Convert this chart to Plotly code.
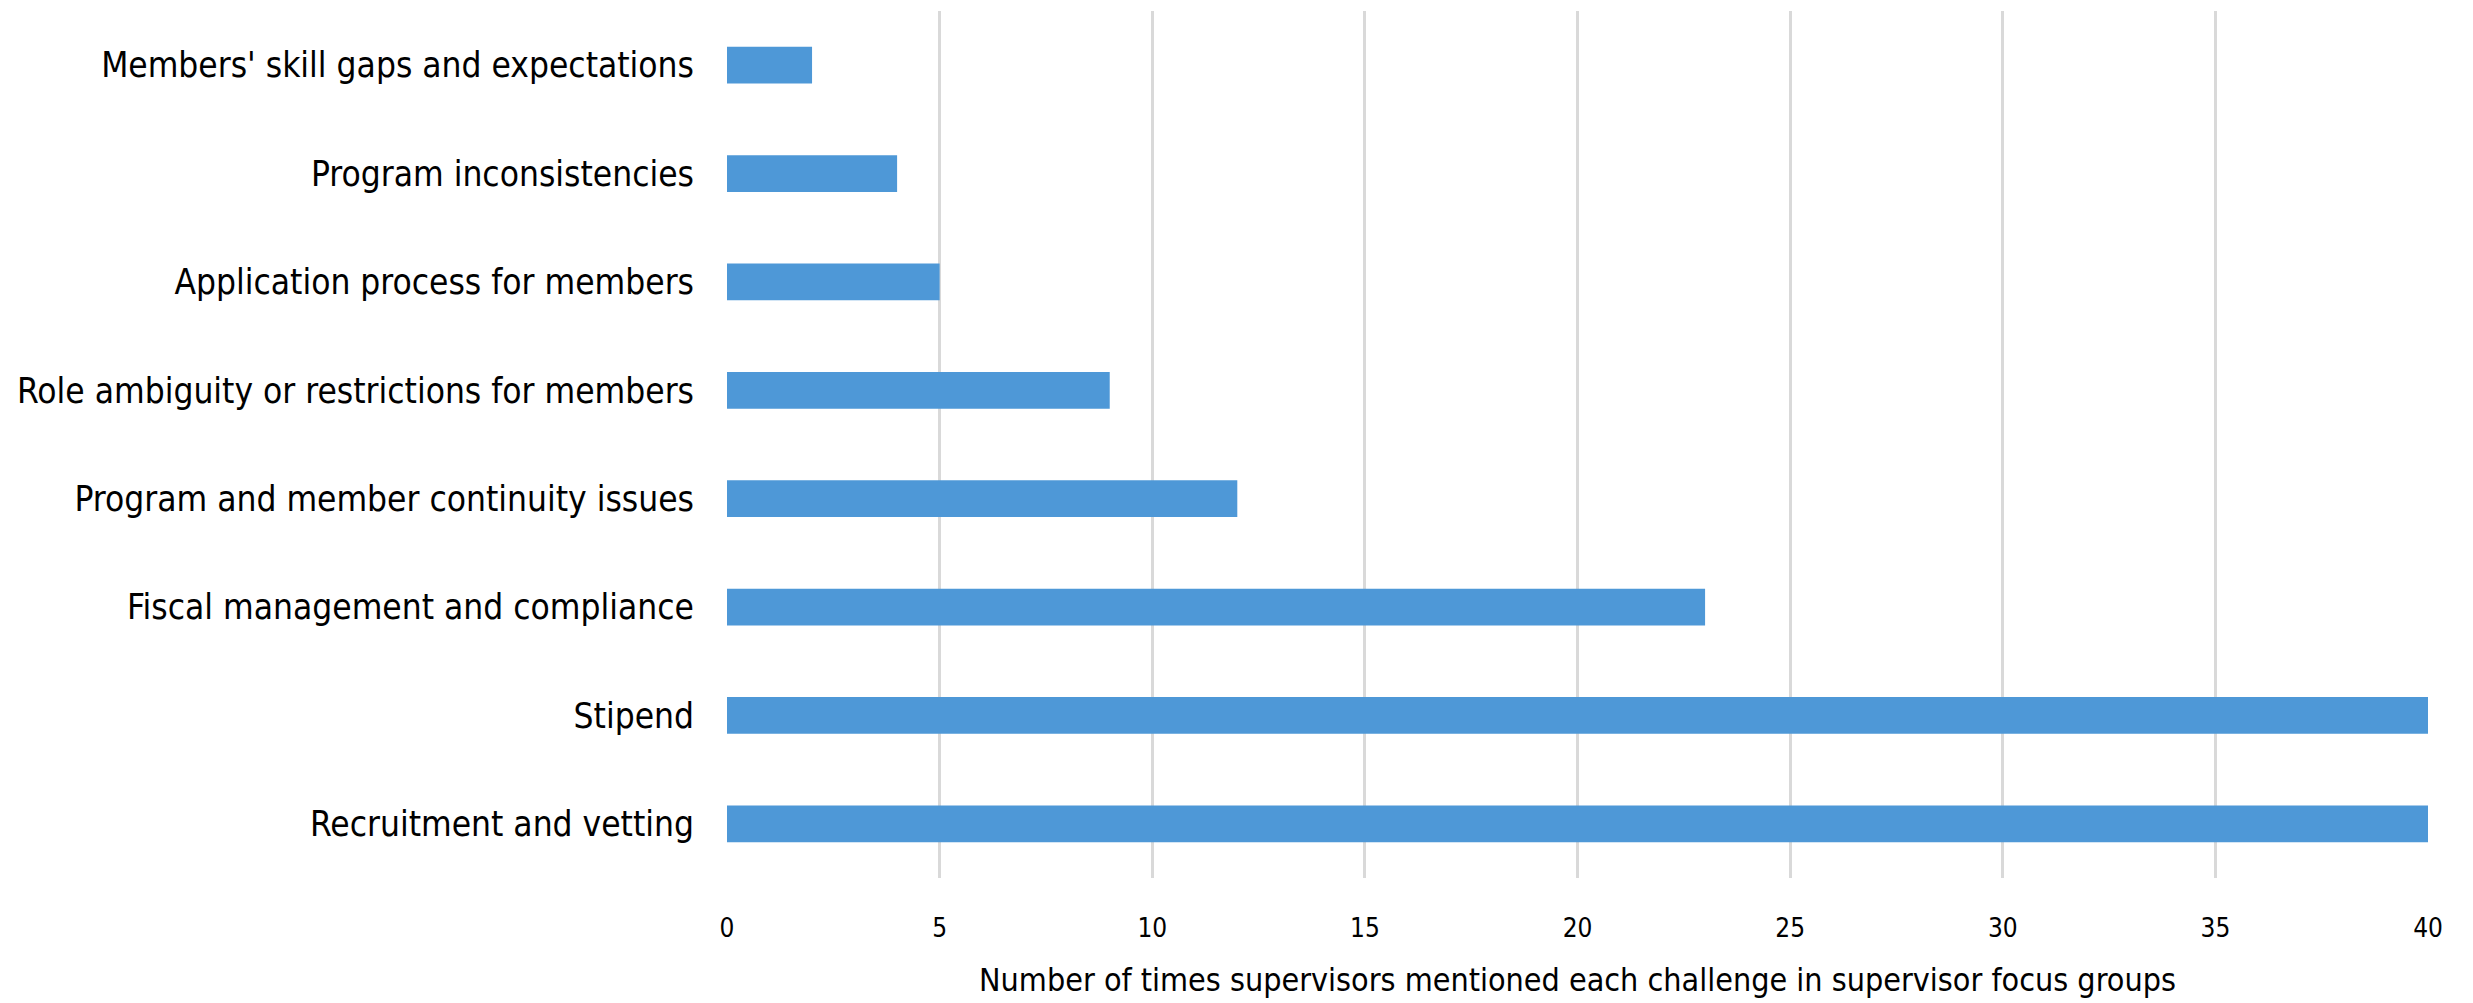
import plotly.graph_objects as go

categories = [
    "Recruitment and vetting",
    "Stipend",
    "Fiscal management and compliance",
    "Program and member continuity issues",
    "Role ambiguity or restrictions for members",
    "Application process for members",
    "Program inconsistencies",
    "Members' skill gaps and expectations",
]
counts = [40, 40, 23, 12, 9, 5, 4, 2]
x_ticks = [0, 5, 10, 15, 20, 25, 30, 35, 40]

FONT = "DejaVu Sans Condensed, sans-serif"

fig = go.Figure(
    go.Bar(
        x=counts,
        y=categories,
        orientation="h",
        marker=dict(color="#4e98d7", line=dict(width=0)),
        hoverinfo="x+y",
    )
)

fig.update_layout(
    width=2473,
    height=1003,
    margin=dict(l=727, r=45, t=11, b=125, autoexpand=False),
    paper_bgcolor="white",
    plot_bgcolor="white",
    bargap=0.66,
    showlegend=False,
    font=dict(family=FONT, color="#000000"),
)

fig.update_xaxes(
    range=[0, 40],
    tickvals=x_ticks,
    ticktext=[str(v) for v in x_ticks],
    showgrid=True,
    gridcolor="#d9d9d9",
    gridwidth=3,
    zeroline=False,
    showline=False,
    ticks="",
    ticklabelstandoff=32,
    tickfont=dict(size=26, family=FONT, color="#000000"),
    title=dict(
        text="Number of times supervisors mentioned each challenge in supervisor focus groups",
        font=dict(size=32, family=FONT, color="#000000"),
        standoff=26,
    ),
    automargin=False,
)

fig.update_yaxes(
    showgrid=False,
    zeroline=False,
    showline=False,
    ticks="",
    ticklabelstandoff=32,
    tickfont=dict(size=35, family=FONT, color="#000000"),
    automargin=False,
)

fig.write_html("out.html")
